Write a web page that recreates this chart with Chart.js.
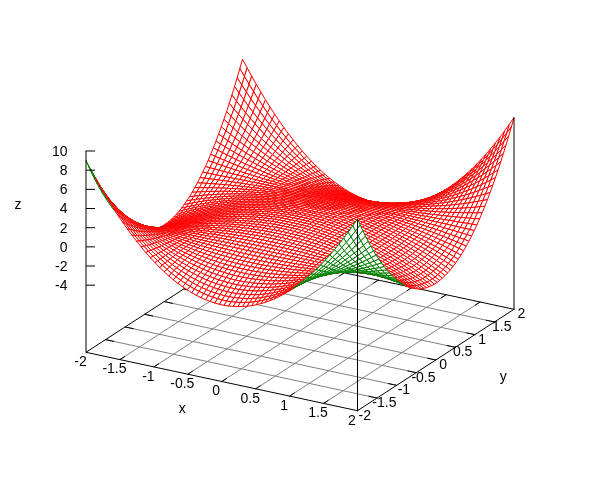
<!DOCTYPE html>
<html>
<head>
<meta charset="utf-8">
<title>surface</title>
<script src="https://cdn.jsdelivr.net/npm/chart.js@4/dist/chart.umd.min.js"></script>
<style>
html, body { margin: 0; padding: 0; background: #fff; }
canvas { display: block; }
</style>
</head>
<body>
<canvas id="surfaceChart" width="600" height="480"></canvas>
<script>
var xTicks = [-2, -1.5, -1, -0.5, 0, 0.5, 1, 1.5, 2];
var yTicks = [-2, -1.5, -1, -0.5, 0, 0.5, 1, 1.5, 2];
var zTicks = [-4, -2, 0, 2, 4, 6, 8, 10];
var zBase = -11;

// mesh positions from the centre out, the surface repeats in all four quadrants
var meshSteps = [0.034, 0.102, 0.169, 0.237, 0.305, 0.373, 0.441, 0.508, 0.576, 0.644, 0.712, 0.78, 0.847, 0.915, 0.983, 1.051, 1.119, 1.186, 1.254, 1.322, 1.39, 1.458, 1.525, 1.593, 1.661, 1.729, 1.797, 1.864, 1.932, 2];

// heights, row = |x| step, column = |y| step
var zQuadrant = [
	[1.00, 0.99, 0.97, 0.94, 0.91, 0.86, 0.81, 0.74, 0.67, 0.58, 0.49, 0.39, 0.28, 0.16, 0.03, -0.10, -0.25, -0.41, -0.57, -0.75, -0.93, -1.12, -1.33, -1.54, -1.76, -1.99, -2.23, -2.47, -2.73, -3.00],
	[0.99, 0.98, 0.96, 0.93, 0.90, 0.85, 0.80, 0.73, 0.66, 0.58, 0.49, 0.39, 0.28, 0.16, 0.03, -0.10, -0.25, -0.40, -0.57, -0.74, -0.92, -1.11, -1.31, -1.52, -1.74, -1.97, -2.21, -2.45, -2.71, -2.97],
	[0.97, 0.96, 0.94, 0.92, 0.88, 0.84, 0.78, 0.72, 0.65, 0.57, 0.48, 0.38, 0.27, 0.16, 0.03, -0.10, -0.24, -0.40, -0.56, -0.73, -0.90, -1.09, -1.29, -1.49, -1.71, -1.93, -2.16, -2.40, -2.65, -2.91],
	[0.94, 0.93, 0.92, 0.89, 0.86, 0.81, 0.76, 0.70, 0.63, 0.55, 0.47, 0.37, 0.27, 0.15, 0.03, -0.10, -0.24, -0.39, -0.54, -0.71, -0.88, -1.06, -1.25, -1.45, -1.66, -1.88, -2.10, -2.34, -2.58, -2.83],
	[0.91, 0.90, 0.88, 0.86, 0.82, 0.78, 0.73, 0.67, 0.61, 0.53, 0.45, 0.36, 0.26, 0.15, 0.03, -0.09, -0.23, -0.37, -0.52, -0.68, -0.85, -1.02, -1.20, -1.39, -1.60, -1.80, -2.02, -2.25, -2.48, -2.72],
	[0.86, 0.85, 0.84, 0.81, 0.78, 0.74, 0.69, 0.64, 0.58, 0.50, 0.42, 0.34, 0.24, 0.14, 0.03, -0.09, -0.22, -0.35, -0.49, -0.64, -0.80, -0.97, -1.14, -1.32, -1.51, -1.71, -1.92, -2.13, -2.35, -2.58],
	[0.81, 0.80, 0.78, 0.76, 0.73, 0.69, 0.65, 0.60, 0.54, 0.47, 0.40, 0.32, 0.23, 0.13, 0.03, -0.08, -0.20, -0.33, -0.46, -0.60, -0.75, -0.91, -1.07, -1.24, -1.42, -1.60, -1.80, -2.00, -2.20, -2.42],
	[0.74, 0.73, 0.72, 0.70, 0.67, 0.64, 0.60, 0.55, 0.49, 0.43, 0.37, 0.29, 0.21, 0.12, 0.03, -0.08, -0.19, -0.30, -0.42, -0.55, -0.69, -0.83, -0.98, -1.14, -1.30, -1.47, -1.65, -1.83, -2.03, -2.22],
	[0.67, 0.66, 0.65, 0.63, 0.61, 0.58, 0.54, 0.49, 0.45, 0.39, 0.33, 0.26, 0.19, 0.11, 0.02, -0.07, -0.17, -0.27, -0.38, -0.50, -0.62, -0.75, -0.89, -1.03, -1.18, -1.33, -1.49, -1.65, -1.83, -2.00],
	[0.58, 0.58, 0.57, 0.55, 0.53, 0.50, 0.47, 0.43, 0.39, 0.34, 0.29, 0.23, 0.16, 0.09, 0.02, -0.06, -0.15, -0.24, -0.34, -0.44, -0.55, -0.66, -0.78, -0.90, -1.03, -1.16, -1.30, -1.45, -1.60, -1.76],
	[0.49, 0.49, 0.48, 0.47, 0.45, 0.42, 0.40, 0.37, 0.33, 0.29, 0.24, 0.19, 0.14, 0.08, 0.02, -0.05, -0.12, -0.20, -0.28, -0.37, -0.46, -0.55, -0.65, -0.76, -0.87, -0.98, -1.10, -1.22, -1.35, -1.48],
	[0.39, 0.39, 0.38, 0.37, 0.36, 0.34, 0.32, 0.29, 0.26, 0.23, 0.19, 0.15, 0.11, 0.06, 0.01, -0.04, -0.10, -0.16, -0.22, -0.29, -0.37, -0.44, -0.52, -0.60, -0.69, -0.78, -0.87, -0.97, -1.07, -1.18],
	[0.28, 0.28, 0.27, 0.27, 0.26, 0.24, 0.23, 0.21, 0.19, 0.16, 0.14, 0.11, 0.08, 0.05, 0.01, -0.03, -0.07, -0.12, -0.16, -0.21, -0.26, -0.32, -0.37, -0.43, -0.50, -0.56, -0.63, -0.70, -0.77, -0.85],
	[0.16, 0.16, 0.16, 0.15, 0.15, 0.14, 0.13, 0.12, 0.11, 0.09, 0.08, 0.06, 0.05, 0.03, 0.01, -0.02, -0.04, -0.07, -0.09, -0.12, -0.15, -0.18, -0.21, -0.25, -0.28, -0.32, -0.36, -0.40, -0.44, -0.49],
	[0.03, 0.03, 0.03, 0.03, 0.03, 0.03, 0.03, 0.03, 0.02, 0.02, 0.02, 0.01, 0.01, 0.01, 0, 0, -0.01, -0.01, -0.02, -0.03, -0.03, -0.04, -0.05, -0.05, -0.06, -0.07, -0.08, -0.08, -0.09, -0.10],
	[-0.10, -0.10, -0.10, -0.10, -0.09, -0.09, -0.08, -0.08, -0.07, -0.06, -0.05, -0.04, -0.03, -0.02, 0, 0.01, 0.03, 0.04, 0.06, 0.08, 0.10, 0.12, 0.14, 0.16, 0.18, 0.21, 0.23, 0.26, 0.28, 0.31],
	[-0.25, -0.25, -0.24, -0.24, -0.23, -0.22, -0.20, -0.19, -0.17, -0.15, -0.12, -0.10, -0.07, -0.04, -0.01, 0.03, 0.06, 0.10, 0.14, 0.19, 0.23, 0.28, 0.33, 0.39, 0.44, 0.50, 0.56, 0.62, 0.69, 0.75],
	[-0.41, -0.40, -0.40, -0.39, -0.37, -0.35, -0.33, -0.30, -0.27, -0.24, -0.20, -0.16, -0.12, -0.07, -0.01, 0.04, 0.10, 0.17, 0.23, 0.31, 0.38, 0.46, 0.54, 0.63, 0.72, 0.81, 0.91, 1.01, 1.12, 1.22],
	[-0.57, -0.57, -0.56, -0.54, -0.52, -0.49, -0.46, -0.42, -0.38, -0.34, -0.28, -0.22, -0.16, -0.09, -0.02, 0.06, 0.14, 0.23, 0.33, 0.43, 0.53, 0.64, 0.76, 0.88, 1.01, 1.14, 1.28, 1.42, 1.57, 1.72],
	[-0.75, -0.74, -0.73, -0.71, -0.68, -0.64, -0.60, -0.55, -0.50, -0.44, -0.37, -0.29, -0.21, -0.12, -0.03, 0.08, 0.19, 0.31, 0.43, 0.56, 0.70, 0.84, 0.99, 1.15, 1.32, 1.49, 1.67, 1.85, 2.04, 2.24],
	[-0.93, -0.92, -0.90, -0.88, -0.85, -0.80, -0.75, -0.69, -0.62, -0.55, -0.46, -0.37, -0.26, -0.15, -0.03, 0.10, 0.23, 0.38, 0.53, 0.70, 0.87, 1.05, 1.24, 1.43, 1.64, 1.85, 2.08, 2.31, 2.55, 2.80],
	[-1.12, -1.11, -1.09, -1.06, -1.02, -0.97, -0.91, -0.83, -0.75, -0.66, -0.55, -0.44, -0.32, -0.18, -0.04, 0.12, 0.28, 0.46, 0.64, 0.84, 1.05, 1.27, 1.49, 1.73, 1.98, 2.24, 2.51, 2.79, 3.07, 3.38],
	[-1.33, -1.31, -1.29, -1.25, -1.20, -1.14, -1.07, -0.98, -0.89, -0.78, -0.65, -0.52, -0.37, -0.21, -0.05, 0.14, 0.33, 0.54, 0.76, 0.99, 1.24, 1.49, 1.76, 2.04, 2.33, 2.64, 2.96, 3.29, 3.63, 3.98],
	[-1.54, -1.52, -1.49, -1.45, -1.39, -1.32, -1.24, -1.14, -1.03, -0.90, -0.76, -0.60, -0.43, -0.25, -0.05, 0.16, 0.39, 0.63, 0.88, 1.15, 1.43, 1.73, 2.04, 2.37, 2.71, 3.06, 3.43, 3.81, 4.20, 4.61],
	[-1.76, -1.74, -1.71, -1.66, -1.60, -1.51, -1.42, -1.30, -1.18, -1.03, -0.87, -0.69, -0.50, -0.28, -0.06, 0.18, 0.44, 0.72, 1.01, 1.32, 1.64, 1.98, 2.33, 2.71, 3.09, 3.50, 3.92, 4.36, 4.81, 5.28],
	[-1.99, -1.97, -1.93, -1.88, -1.80, -1.71, -1.60, -1.47, -1.33, -1.16, -0.98, -0.78, -0.56, -0.32, -0.07, 0.21, 0.50, 0.81, 1.14, 1.49, 1.85, 2.24, 2.64, 3.06, 3.50, 3.96, 4.43, 4.92, 5.44, 5.97],
	[-2.23, -2.21, -2.16, -2.10, -2.02, -1.92, -1.80, -1.65, -1.49, -1.30, -1.10, -0.87, -0.63, -0.36, -0.08, 0.23, 0.56, 0.91, 1.28, 1.67, 2.08, 2.51, 2.96, 3.43, 3.92, 4.43, 4.96, 5.52, 6.09, 6.68],
	[-2.47, -2.45, -2.40, -2.34, -2.25, -2.13, -2.00, -1.83, -1.65, -1.45, -1.22, -0.97, -0.70, -0.40, -0.08, 0.26, 0.62, 1.01, 1.42, 1.85, 2.31, 2.79, 3.29, 3.81, 4.36, 4.92, 5.52, 6.13, 6.77, 7.43],
	[-2.73, -2.71, -2.65, -2.58, -2.48, -2.35, -2.20, -2.03, -1.83, -1.60, -1.35, -1.07, -0.77, -0.44, -0.09, 0.28, 0.69, 1.12, 1.57, 2.04, 2.55, 3.07, 3.63, 4.20, 4.81, 5.44, 6.09, 6.77, 7.47, 8.20],
	[-3.00, -2.97, -2.91, -2.83, -2.72, -2.58, -2.42, -2.22, -2.00, -1.76, -1.48, -1.18, -0.85, -0.49, -0.10, 0.31, 0.75, 1.22, 1.72, 2.24, 2.80, 3.38, 3.98, 4.61, 5.28, 5.97, 6.68, 7.43, 8.20, 9.00]
];

// oblique view of the box, in screen pixels per data unit
var view = { xh: 67.875, yh: 39.125, xv: -14.6, yv: 25.35, zv: 9.586 };
var tickLen = 0.12;
var meshWidth = 1;

function project (x, y, z) {
	return {
		x: view.xh * x + view.yh * y,
		y: view.xv * x + view.yv * y + view.zv * (z - zBase)
	};
}

var meshAxis = meshSteps.slice().reverse().map(function (v) { return -v; }).concat(meshSteps);
var mid = meshSteps.length;

function meshPoint (i, j) {
	var row = i < mid ? mid - 1 - i : i - mid;
	var col = j < mid ? mid - 1 - j : j - mid;
	return project(meshAxis[i], meshAxis[j], zQuadrant[row][col]);
}

var layers = [];

function addLine (a, b, color) {
	layers.push({
		data: [project(a[0], a[1], a[2]), project(b[0], b[1], b[2])],
		borderColor: color,
		borderWidth: 1,
		showLine: true,
		pointRadius: 0,
		fill: false
	});
}

// floor grid, then tick marks and box edges on top of it
xTicks.slice(1, -1).forEach(function (x) { addLine([x, -2, zBase], [x, 2, zBase], "#808080"); });
yTicks.slice(1, -1).forEach(function (y) { addLine([-2, y, zBase], [2, y, zBase], "#808080"); });
xTicks.slice(1, -1).forEach(function (x) {
	addLine([x, -2, zBase], [x, -2 + tickLen, zBase], "#000");
	addLine([x, 2, zBase], [x, 2 - tickLen, zBase], "#000");
});
yTicks.slice(1, -1).forEach(function (y) {
	addLine([-2, y, zBase], [-2 + tickLen, y, zBase], "#000");
	addLine([2, y, zBase], [2 - tickLen, y, zBase], "#000");
});
addLine([-2, 2, zBase], [-2, -2, zBase], "#000");
addLine([-2, 2, zBase], [2, 2, zBase], "#000");
addLine([-2, -2, zBase], [2, -2, zBase], "#000");
addLine([2, -2, zBase], [2, 2, zBase], "#000");

// mesh cells far to near so nearer cells hide what is behind them
for (var i = 0; i < meshAxis.length - 1; i++) {
	for (var j = meshAxis.length - 2; j >= 0; j--) {
		var a = meshPoint(i, j), b = meshPoint(i + 1, j), c = meshPoint(i + 1, j + 1), d = meshPoint(i, j + 1);
		var area = (c.x - a.x) * (d.y - b.y) - (c.y - a.y) * (d.x - b.x);
		layers.push({
			data: [a, b, c, d, a],
			borderColor: area > 0 ? "#ff0000" : "#008000",
			backgroundColor: "#ffffff",
			borderWidth: meshWidth,
			showLine: true,
			pointRadius: 0,
			fill: "shape"
		});
	}
}

// box uprights go over the surface
addLine([-2, -2, zBase], [-2, -2, 10], "#000");
addLine([2, 2, zBase], [2, 2, 9], "#000");
addLine([2, -2, zBase], [2, -2, 9], "#000");

// first dataset ends up on top in Chart.js, so order counts down
layers.forEach(function (l, n) { l.order = layers.length - n; });

var axisText = {
	id: "axisText",
	afterDatasetsDraw: function (chart) {
		var ctx = chart.ctx, sx = chart.scales.x, sy = chart.scales.y;
		function at (p) { return { x: sx.getPixelForValue(p.x), y: sy.getPixelForValue(p.y) }; }
		function label (text, x, y, align) {
			ctx.textAlign = align || "center";
			ctx.fillText(text, x, y);
		}
		ctx.save();
		ctx.font = '14px "Liberation Sans", Arial, sans-serif';
		ctx.fillStyle = "#000";
		ctx.textBaseline = "middle";
		ctx.strokeStyle = "#000";
		ctx.lineWidth = 1;
		zTicks.forEach(function (z) {
			var p = at(project(-2, -2, z));
			ctx.beginPath();
			ctx.moveTo(p.x, p.y);
			ctx.lineTo(p.x + 9, p.y);
			ctx.stroke();
			label(String(z), p.x - 18.5, p.y + 1, "right");
		});
		xTicks.forEach(function (x) {
			var p = at(project(x, -2, zBase));
			label(String(x), p.x - 5.5, p.y + 10);
		});
		yTicks.forEach(function (y) {
			var p = at(project(2, y, zBase));
			label(String(y), p.x + 7.3, p.y + 5);
		});
		var xt = at(project(0, -2, zBase));
		label("x", xt.x - 39.5, xt.y + 27.5);
		var yt = at(project(2, 0, zBase));
		label("y", yt.x + 67.5, yt.y + 17.5);
		var zt = at(project(-2, -2, 4));
		label("z", zt.x - 68, zt.y - 3);
		ctx.restore();
	}
};

function loadSurfaceChart () {
	var ctx = document.getElementById("surfaceChart");
	new Chart(ctx, {
		type: "scatter",
		data: { datasets: layers },
		options: {
			responsive: false,
			animation: false,
			layout: { padding: 0 },
			events: [],
			elements: { line: { tension: 0, borderCapStyle: "round", borderJoinStyle: "round" } },
			plugins: { legend: { display: false }, tooltip: { enabled: false }, title: { display: false } },
			scales: {
				x: { type: "linear", min: -300, max: 300, display: false },
				y: { type: "linear", min: -149.2, max: 330.8, display: false }
			}
		},
		plugins: [axisText]
	});
}
window.addEventListener("load", function () { loadSurfaceChart(); });
</script>
</body>
</html>
